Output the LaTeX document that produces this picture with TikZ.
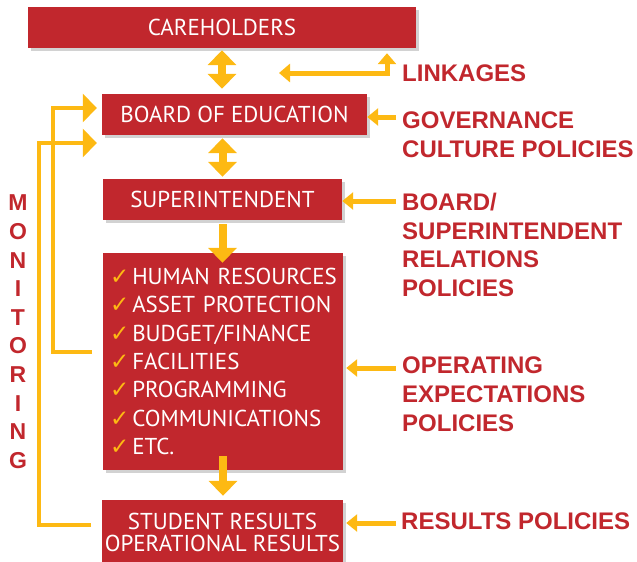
\documentclass[tikz,border=0pt]{standalone}
\usepackage{fontspec}
\setmainfont{PT Sans}
\newfontfamily\labelfont{Liberation Sans}
\newfontfamily\tickfont{DejaVu Sans}
\usetikzlibrary{arrows.meta,shadows}

\definecolor{boxred}{HTML}{C1272D}
\definecolor{arrowyellow}{HTML}{FDB913}

\newcommand{\tick}{{\tickfont\bfseries\color{arrowyellow}\fontsize{23}{23}\selectfont ✓}\hspace{3pt}}
\newcommand{\areaitem}[1]{\mbox{\tick #1}}

\tikzset{
  box/.style={fill=boxred, text=white, inner sep=0pt,
    font=\fontsize{23}{28.4}\selectfont,
    drop shadow={shadow xshift=3pt, shadow yshift=-3pt, opacity=0.25, fill=black!70}},
  policy/.style={anchor=north west, inner sep=0pt, align=left, text=boxred,
    font=\labelfont\bfseries\fontsize{24}{28.6}\selectfont},
  monletter/.style={inner sep=0pt, text=boxred,
    font=\labelfont\bfseries\fontsize{23}{23}\selectfont},
  bigarrow/.style={draw=arrowyellow, line width=8pt, >={Triangle[length=15pt,width=28pt]}},
  sidearrow/.style={draw=arrowyellow, line width=5pt, ->, >={Triangle[length=11pt,width=17pt]}},
  monarrow/.style={draw=arrowyellow, line width=4pt, ->, >={Triangle[length=14pt,width=28pt]}}
}

\begin{document}
\begin{tikzpicture}[x=1pt, y=-1pt]
  \useasboundingbox (0,0) rectangle (637,562);

  % the chain of boxes
  \node[box, minimum width=388pt, minimum height=41pt] (care) at (222,27.5) {CAREHOLDERS};
  \node[box, minimum width=265pt, minimum height=41pt] (board) at (234.5,114.5) {BOARD OF EDUCATION};
  \node[box, minimum width=239pt, minimum height=41pt] (supt) at (222.5,199.5) {SUPERINTENDENT};
  \node[box, minimum width=240pt, minimum height=217pt, text width=226pt, align=left] (areas) at (223,361.5)
    {\areaitem{HUMAN RESOURCES}\\ \areaitem{ASSET PROTECTION}\\ \areaitem{BUDGET/FINANCE}\\ \areaitem{FACILITIES}\\
     \areaitem{PROGRAMMING}\\ \areaitem{COMMUNICATIONS}\\ \areaitem{ETC.}};
  \node[box, minimum width=241pt, minimum height=64pt, align=center, font=\fontsize{23}{22}\selectfont] (results) at (222.5,532)
    {STUDENT RESULTS\\OPERATIONAL RESULTS};

  % policy labels
  \node[policy] (linkages) at (402,65) {LINKAGES};
  \node[policy] (governance) at (402,112) {GOVERNANCE\\CULTURE POLICIES};
  \node[policy] (relations) at (402,193) {BOARD/\\SUPERINTENDENT\\RELATIONS\\POLICIES};
  \node[policy] (operating) at (402,357) {OPERATING\\EXPECTATIONS\\POLICIES};
  \node[policy] (respol) at (401,513) {RESULTS POLICIES};

  % arrows down the chain
  \draw[bigarrow, <->, shorten <=2pt, shorten >=5pt] (care.south) -- (care.south |- board.north);
  \draw[bigarrow, <->, shorten <=3pt, shorten >=2pt] (supt.north |- board.south) -- (supt.north);
  \draw[bigarrow, ->, shorten <=4pt, shorten >=-10pt] (supt.south) -- (supt.south |- areas.north);
  \draw[bigarrow, ->, shorten <=-14pt, shorten >=4pt] (areas.south) -- (areas.south |- results.north);

  % linkages
  \coordinate (lkleft) at (279,73);
  \coordinate (lkcorner) at (387,73);
  \draw[sidearrow, <->, >={Triangle[length=11pt,width=18pt]}, shorten >=5pt]
    (lkleft) -- (lkcorner) -- (lkcorner |- care.south);

  % policies into the boxes
  \coordinate (govin) at ([xshift=-6pt,yshift=-5pt]governance.north west);
  \coordinate (relin) at ([xshift=-6pt,yshift=-8pt]relations.north west);
  \coordinate (opin) at ([xshift=-6pt,yshift=-11pt]operating.north west);
  \coordinate (resin) at ([xshift=-5pt,yshift=-10pt]respol.north west);
  \draw[sidearrow] (govin) -- (govin -| board.east);
  \draw[sidearrow] (relin) -- (relin -| supt.east);
  \draw[sidearrow, shorten >=3pt] (opin) -- (opin -| areas.east);
  \draw[sidearrow, shorten >=3pt] (resin) -- (resin -| results.east);

  % monitoring
  \coordinate (monA) at (92,352);
  \coordinate (monB) at (53,108);
  \coordinate (monC) at (91,525);
  \coordinate (monD) at (39,143);
  \draw[monarrow, shorten >=5pt] (monA) -| (monB) -- (board.west |- monB);
  \draw[monarrow, shorten >=5pt] (monC) -| (monD) -- (board.west |- monD);
  \foreach \ch [count=\i] in {M,O,N,I,T,O,R,I,N,G}
    \node[monletter] (mon\i) at (18,{174.4+28.6*\i}) {\ch};
\end{tikzpicture}
\end{document}
